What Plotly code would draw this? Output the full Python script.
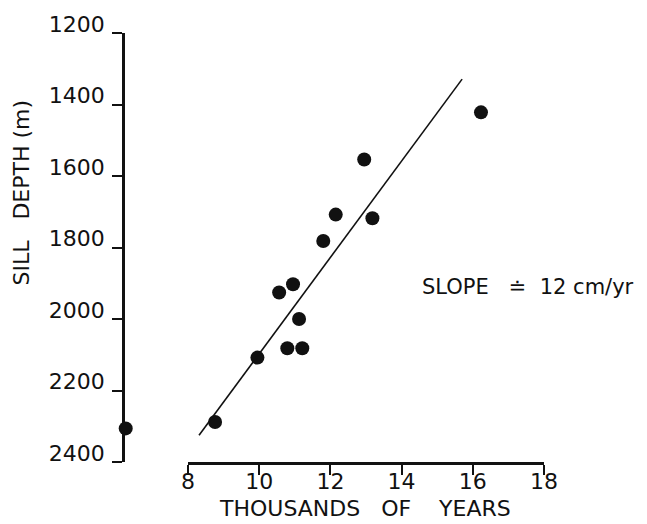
import plotly.graph_objects as go

# Data
years_kyr = [6.25, 8.76, 9.95, 10.56, 10.95, 10.79, 11.12, 11.21, 11.80, 12.15, 12.95, 13.18, 16.23]
depth_m = [2306, 2288, 2108, 1926, 1903, 2082, 2000, 2082, 1782, 1708, 1554, 1718, 1422]

fit_years = [8.31, 15.70]
fit_depth = [2325, 1329]

x_ticks = [8, 10, 12, 14, 16, 18]
y_ticks = [1200, 1400, 1600, 1800, 2000, 2200, 2400]

FONT = "DejaVu Sans"
INK = "#111111"
NB = "\u00a0"

fig = go.Figure()
fig.add_trace(go.Scatter(
    x=fit_years, y=fit_depth, mode="lines", xaxis="x2", yaxis="y",
    line=dict(color=INK, width=1.6), hoverinfo="skip", showlegend=False,
))
fig.add_trace(go.Scatter(
    x=years_kyr, y=depth_m, mode="markers", xaxis="x", yaxis="y",
    marker=dict(color=INK, size=14), cliponaxis=False, showlegend=False,
))

L, R, T, B = 125, 103, 29, 62
W, H = 647, 524
pw = W - L - R
ph = H - T - B
x_lo = 8 - (x_ticks[-1] - x_ticks[0]) * (188 - L) / (544 - 188)

fig.update_layout(
    width=W, height=H,
    margin=dict(l=L, r=R, t=T, b=B),
    paper_bgcolor="white", plot_bgcolor="rgba(0,0,0,0)",
    font=dict(family=FONT, color=INK),
    xaxis=dict(range=[x_lo, 18], visible=False, domain=[0, 1]),
    xaxis2=dict(
        range=[8, 18], domain=[(188 - L) / pw, 1], anchor="y",
        tickvals=x_ticks, ticktext=[str(v) for v in x_ticks],
        showline=True, linecolor=INK, linewidth=2.5,
        ticks="outside", ticklen=10, tickwidth=2, tickcolor=INK,
        showgrid=False, zeroline=False,
        tickfont=dict(size=22, family=FONT, color=INK),
        ticklabelstandoff=-12,
    ),
    yaxis=dict(
        range=[2400, 1200], anchor="x",
        tickvals=y_ticks, ticktext=[str(v) for v in y_ticks],
        showline=True, linecolor=INK, linewidth=2.5,
        ticks="outside", ticklen=10, tickwidth=2, tickcolor=INK,
        showgrid=False, zeroline=False,
        tickfont=dict(size=22, family=FONT, color=INK),
        ticklabelstandoff=3, ticklabelshift=9,
    ),
    annotations=[
        dict(text=f"THOUSANDS{NB*3}OF{NB*4}YEARS", xref="paper", yref="paper",
             x=(365 - L) / pw, y=(H - B - 509) / ph,
             xanchor="center", yanchor="middle", showarrow=False,
             font=dict(size=22, family=FONT, color=INK)),
        dict(text=f"SILL{NB*3}DEPTH{NB}(m)", xref="paper", yref="paper",
             x=(22 - L) / pw, y=(H - B - 190) / ph, textangle=-90,
             xanchor="center", yanchor="middle", showarrow=False,
             font=dict(size=22, family=FONT, color=INK)),
        dict(text=f"SLOPE{NB*3}≐{NB*2}12{NB}cm/yr", xref="paper", yref="paper",
             x=(420 - L) / pw, y=(H - B - 285) / ph,
             xanchor="left", yanchor="middle", showarrow=False,
             font=dict(size=21, family=FONT, color=INK)),
    ],
)

fig.write_html("out.html")
